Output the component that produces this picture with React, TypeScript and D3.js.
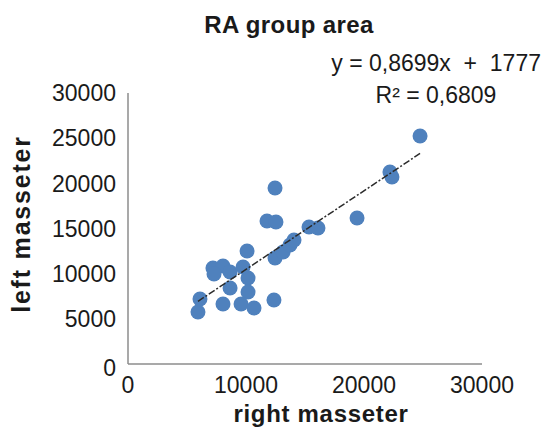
import React from "react";
import * as d3 from "d3";

const rightMasseter = [5930, 6100, 8050, 7200, 8050, 8650, 7290, 8650, 10090, 9750, 10170, 10170, 9580, 10680, 12370, 12460, 11780, 12540, 15340, 16100, 12460, 13140, 13730, 14070, 19410, 22200, 22370, 24750];
const leftMasseter = [5760, 7200, 6640, 10630, 10850, 10180, 9960, 8410, 12510, 10740, 9520, 7970, 6640, 6200, 7090, 19480, 15830, 15720, 15170, 15060, 11730, 12400, 13170, 13730, 16160, 21250, 20700, 25240];
const xTicks = [0, 10000, 20000, 30000];
const yTicks = [0, 5000, 10000, 15000, 20000, 25000, 30000];
const slope = 0.8699;
const intercept = 1777;
const titleText = "RA group area";
const equationText = "y = 0,8699x  +  1777";
const r2Text = "R² = 0,6809";
const xTitle = "right masseter";
const yTitle = "left masseter";

export default function App() {
  const W = 544, H = 429;
  const x = d3.scaleLinear().domain([0, 30000]).range([128, 482]);
  const y = d3.scaleLinear().domain([0, 30000]).range([364, 93]);
  const xmin = d3.min(rightMasseter) as number;
  const xmax = d3.max(rightMasseter) as number;
  const line = d3.line<number>().x((d) => x(d)).y((d) => y(slope * d + intercept));
  const font = "'Liberation Sans', Arial, sans-serif";
  const textColor = "#1a1a1a";
  return (
    <svg width={W} height={H} style={{ position: "absolute", left: 0, top: 0, background: "#fff" }} fontFamily={font}>
      <rect width={W} height={H} fill="#fff" />
      <text x={289} y={33} textAnchor="middle" fontSize={24} fontWeight="bold" letterSpacing={0.4} fill={textColor}>{titleText}</text>
      {/* axes */}
      <line x1={x(0)} x2={x(0)} y1={y(30000)} y2={y(0)} stroke="#8c8c8c" strokeWidth={1.5} />
      <line x1={x(0)} x2={x(30000)} y1={y(0)} y2={y(0)} stroke="#8c8c8c" strokeWidth={1.5} />
      {yTicks.map((t) => (
        <text key={"y" + t} x={116} y={t === 0 ? y(t) + 4 : y(t)} dy="0.36em" textAnchor="end" fontSize={23} fill={textColor}>{t}</text>
      ))}
      {xTicks.map((t) => (
        <text key={"x" + t} x={x(t)} y={385} dy="0.36em" textAnchor="middle" fontSize={23} fill={textColor}>{t}</text>
      ))}
      {rightMasseter.map((v, i) => (
        <circle key={i} cx={x(v)} cy={y(leftMasseter[i])} r={7.5} fill="#4f81bd" />
      ))}
      <path d={line([xmin, xmax]) || ""} fill="none" stroke="#2b2b2b" strokeWidth={1.5} strokeDasharray="7,2,2,2" />
      <text x={541} y={63} dy="0.36em" textAnchor="end" fontSize={23} fill={textColor} style={{ whiteSpace: "pre" }}>{equationText}</text>
      <text x={436} y={95} dy="0.36em" textAnchor="middle" fontSize={23} fill={textColor}>{r2Text}</text>
      <text x={321} y={413} dy="0.36em" textAnchor="middle" fontSize={24} fontWeight="bold" letterSpacing={0.7} fill={textColor}>{xTitle}</text>
      <text transform={`translate(21,224) rotate(-90)`} dy="0.36em" textAnchor="middle" fontSize={25} fontWeight="bold" letterSpacing={1.8} fill={textColor}>{yTitle}</text>
    </svg>
  );
}
